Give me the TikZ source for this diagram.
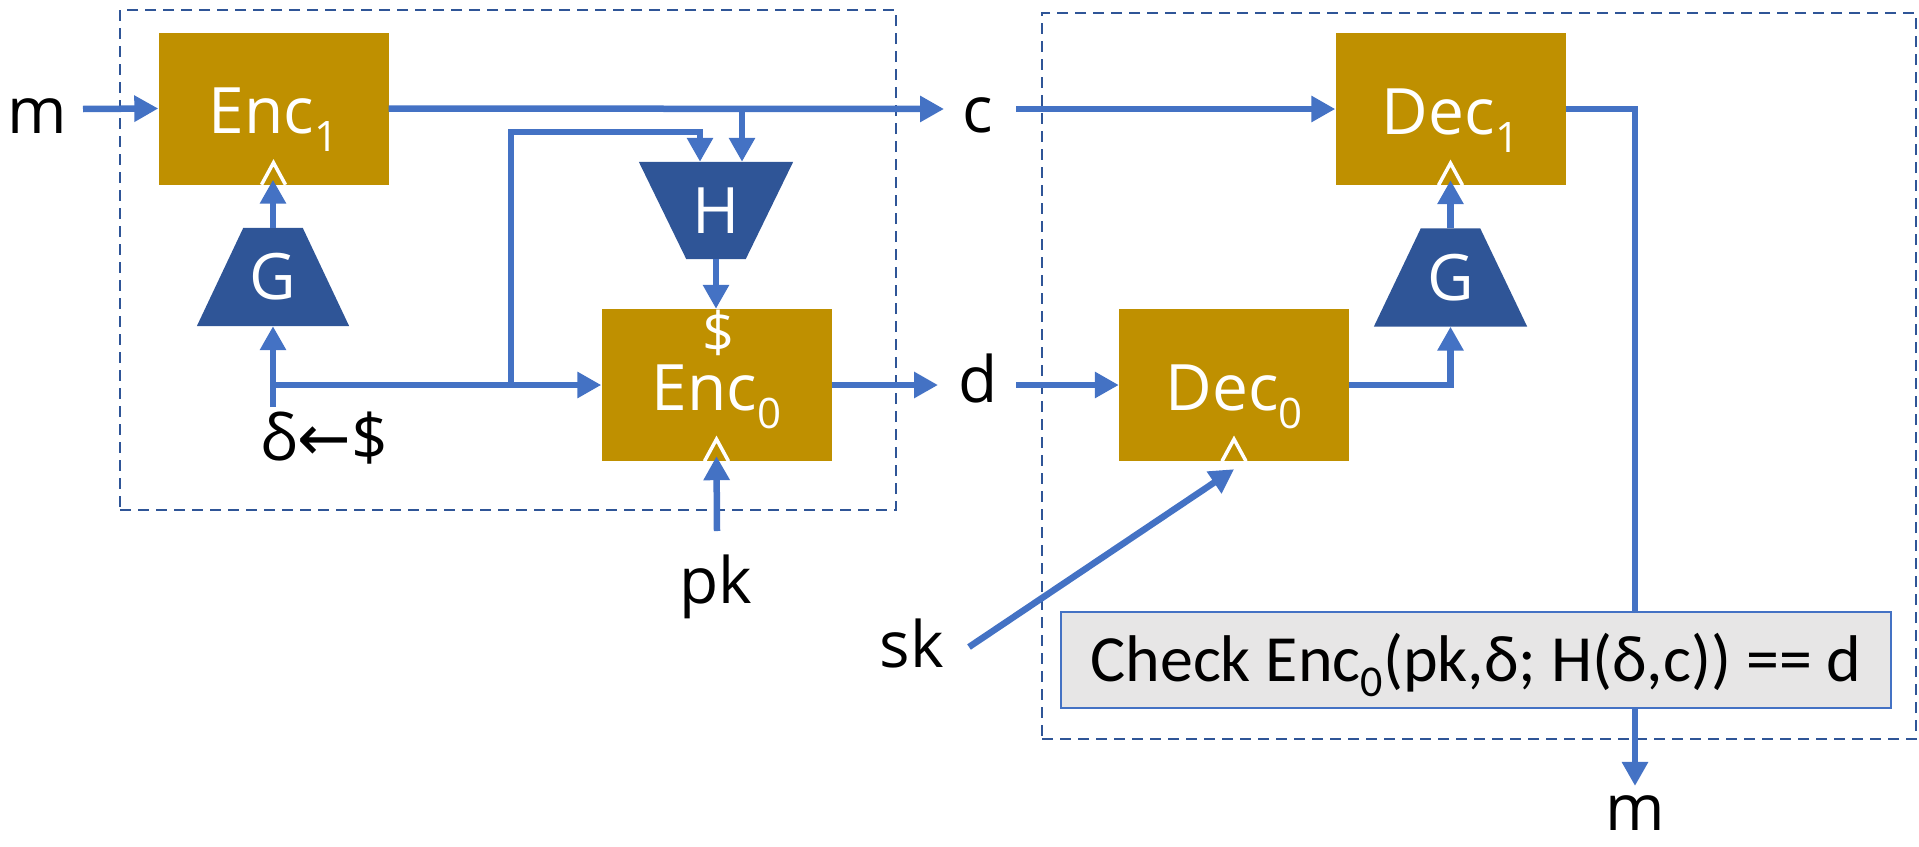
\documentclass[tikz,border=0pt]{standalone}
\usepackage{fontspec}
\setmainfont{Open Sans}
\newfontfamily\chkfam{Carlito}
\newfontfamily\dvfam{DejaVu Sans}
\usetikzlibrary{arrows.meta,calc,backgrounds}
\definecolor{goldc}{HTML}{BF9000}
\definecolor{navyc}{HTML}{2F5597}
\definecolor{wirec}{HTML}{4472C4}
\definecolor{dashc}{HTML}{2F5597}
\definecolor{chkc}{HTML}{E7E6E6}
\newcommand\biglbl{\fontsize{64pt}{64pt}\selectfont}
\newcommand\mysub[1]{\raisebox{-18pt}{\fontsize{42pt}{42pt}\selectfont #1}}
\newcommand\chksub[1]{\raisebox{-15pt}{\fontsize{44pt}{44pt}\selectfont #1}}
\tikzset{
  gbox/.style={fill=goldc, inner sep=0pt, minimum width=230pt, minimum height=152pt,
    text=white, font=\biglbl, text height=50pt, text depth=0pt},
  trapframe/.style={inner sep=0pt, text=white, font=\biglbl},
  lbl/.style={font=\biglbl, inner sep=0pt, anchor=base},
  wire/.style={draw=wirec, line width=6.5pt},
  arr/.style={wire, -{Triangle[length=24pt,width=25pt]}},
  dbox/.style={draw=dashc, line width=2.4pt, dash pattern=on 11pt off 7pt, inner sep=0pt},
  caret/.style={draw=white, line width=3.5pt}
}
\begin{document}
\begin{tikzpicture}[x=1pt,y=-1pt]
\useasboundingbox (0,0) rectangle (1919,846);

% dashed enclosures
\node[dbox, minimum width=776pt, minimum height=500pt] (lbox) at (508,260) {};
\node[dbox, minimum width=874pt, minimum height=726pt] (rbox) at (1479,376) {};

% gold boxes
\node[gbox] (enc1) at (273.5,108.5) {Enc\mysub{1}};
\node[gbox] (enc0) at (716.5,385) {Enc\mysub{0}};
\node[gbox] (dec1) at (1450.5,109) {Dec\mysub{1}};
\node[gbox] (dec0) at (1234,385) {Dec\mysub{0}};

% trapezoid frames
\node[trapframe, minimum width=152pt, minimum height=98pt] (gl) at (273,277) {G};
\node[trapframe, minimum width=153pt, minimum height=98pt] (gr) at (1450.5,277.5) {G};
\node[trapframe, minimum width=154pt, minimum height=97pt] (h) at (716,210.5) {H};
\begin{scope}[on background layer]
  \fill[navyc] (gl.south west) -- (gl.south east) -- ($(gl.north east)+(-46.5,0)$) -- ($(gl.north west)+(46.5,0)$) -- cycle;
  \fill[navyc] (gr.south west) -- (gr.south east) -- ($(gr.north east)+(-47,0)$) -- ($(gr.north west)+(47,0)$) -- cycle;
  \fill[navyc] (h.north west) -- (h.north east) -- ($(h.south east)+(-47.5,0)$) -- ($(h.south west)+(47.5,0)$) -- cycle;
\end{scope}

% white dollar in Enc0
\node[text=white, font=\fontsize{56pt}{56pt}\selectfont, inner sep=0pt] (dollar) at (719,333) {\$};

% carets
\foreach \b in {enc1,enc0,dec1,dec0}{
  \draw[caret] ($(\b.south)+(-12,0)$) -- ($(\b.south)+(0,-22)$) -- ($(\b.south)+(12,0)$);
}

% check box
\node[draw=wirec, line width=2.5pt, fill=chkc, minimum width=830pt, minimum height=96pt,
  inner sep=0pt, font=\chkfam\fontsize{66pt}{66pt}\selectfont, text height=42pt, text depth=0pt]
  (chk) at (1476,660) {Check Enc\chksub{0}(pk,δ; H(δ,c)) == d};

% labels
\node[lbl] (mL) at (37,133) {m};
\node[lbl] (cL) at (978,132) {c};
\node[lbl] (dL) at (978,402) {d};
\node[lbl] (dsL) at (324,460) {δ{\dvfam ←}\$};
\node[lbl] (pk) at (716,603) {pk};
\node[lbl] (sk) at (912,667) {sk};
\node[lbl] (mB) at (1635,830) {m};

% coordinates
\coordinate (mS) at (83,109);
\coordinate (cE) at (944,109);
\coordinate (j1) at (742,109);
\coordinate (j2) at (511,385);
\coordinate (j2t) at (511,132);
\coordinate (ds) at (273,407);
\coordinate (pkS) at (717,531);
\coordinate (dE) at (938,385);
\coordinate (cS) at (1016,109);
\coordinate (dS) at (1016,385);
\coordinate (skS) at (969,647);
\coordinate (j3) at (1635,109);

% connectors
\draw[arr] (mS) -- (enc1.west);
\draw[arr] (enc1.east) -- (cE);
\draw[arr] (j1) -- (j1 |- h.north);
\draw[arr] (j2) -- (j2t) -| ($(h.north)+(-16,0)$);
\draw[arr] (ds) -- (gl.south);
\draw[arr] (ds |- enc0.west) -- (enc0.west);
\draw[arr] (gl.north) -- ($(gl.north |- enc1.south)+(0,-5)$);
\draw[arr] (h.south) -- (h.south |- enc0.north);
\draw[arr] (pkS) -- ($(enc0.south)+(0,-5)$);
\draw[arr] (enc0.east) -- (dE);
\draw[arr] (cS) -- (dec1.west);
\draw[arr] (dS) -- (dec0.west);
\draw[arr] (dec0.east) -| (gr.south);
\draw[arr] (gr.north) -- ($(gr.north |- dec1.south)+(0,-5)$);
\draw[arr] (skS) -- ($(dec0.south)+(0,8)$);
\draw[wire] (dec1.east) -- (j3) -- (j3 |- chk.north);
\draw[arr] (j3 |- chk.south) -- ($(mB.north)+(0,-9)$);
\end{tikzpicture}
\end{document}
